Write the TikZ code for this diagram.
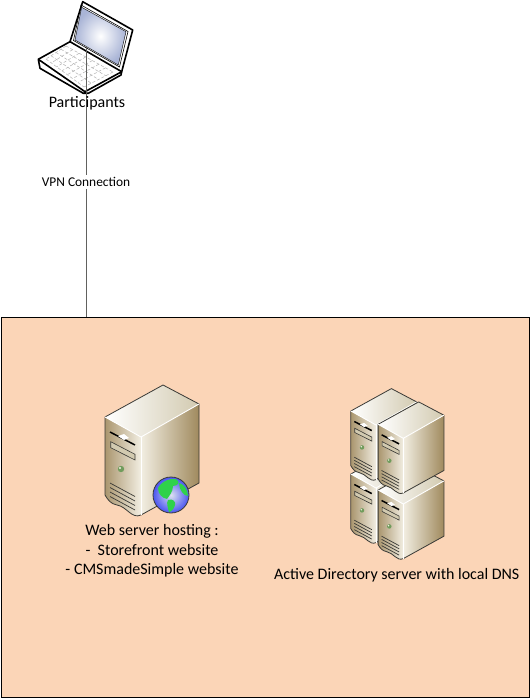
\documentclass[tikz,border=0pt]{standalone}
\usepackage{fontspec}
\setmainfont{Carlito}
\usetikzlibrary{calc}
\definecolor{sitefill}{HTML}{FBD5B7}
\definecolor{towerdark}{HTML}{A08A5E}
\definecolor{towermid}{HTML}{D2CAB0}
\definecolor{towerlight}{HTML}{F2EEE2}
\definecolor{edgedark}{HTML}{3A3A36}
\definecolor{screenblue}{HTML}{A9B4D6}
\definecolor{globegreen}{HTML}{2FD24A}
\definecolor{globeblue}{HTML}{4A55F0}
\tikzset{
	labeltext/.style={font=\fontsize{16}{19.7}\selectfont,text=black,inner sep=0pt},
	linktext/.style={font=\fontsize{13.4}{15}\selectfont,text=black,fill=white,inner sep=2pt},
	towerbox/.pic={
		\shade[left color=towerlight,middle color=towermid!60!white,right color=towerdark] (0,0) -- (58,-33) -- (58,46) -- (0,78) -- cycle;
		\shade[left color=towerdark!90!white,right color=towerlight] (-36,-20) -- (0,0) -- (0,78) to[out=205,in=-10] (-24,68) to[out=170,in=-60] (-36,58) -- cycle;
		\shade[left color=white,right color=towermid] (-36,-20) -- (22,-52) -- (58,-33) -- (0,0) -- cycle;
		\draw[edgedark,line width=.8pt,line join=round] (-36,-20) -- (22,-52) -- (58,-33) -- (58,46) -- (0,78) to[out=205,in=-10] (-24,68) to[out=170,in=-60] (-36,58) -- cycle;
		\draw[white,line width=.9pt] (-36,-20) -- (0,0) -- (58,-33);
		\draw[white,line width=.9pt] (0,0) -- (0,78);
		%%%%%%%%%%%%%%%%%%%%%%%%%%%%%%%%%
		\draw[black,line width=1.5pt] (-31,-5) -- (-6,8);
		\fill[white] (-23,-1) -- (-17,-3) -- (-12,1) -- (-17,3) -- cycle;
		\fill[towermid,draw=edgedark,line width=.6pt] (-30.3,4.7) -- (-6,17.3) -- (-6,23) -- (-30.3,10.7) -- cycle;
		\fill[towerdark!60!green!50!gray] (-20,32) circle (3.2);
		\fill[towerlight] (-21,31) circle (1.2);
		\foreach \v in {0,4.5,9,13.5}
			\draw[edgedark,line width=.7pt] (-31,46+\v) -- (-6,59.5+\v);
	}
}
\begin{document}
\begin{tikzpicture}[x=1pt,y=-1pt]
	\useasboundingbox (0,0) rectangle (530,700);
	\node[draw=black,fill=sitefill,line width=1pt,minimum width=528pt,minimum height=380pt,inner sep=0pt] (site) at (265,507.5){};
	%%%%%%%%%%%%%%%%%%%%%%%%%%%%%%%%%
	% laptop
	\fill[white] (38.3,59.3) -- (70,41.7) -- (121.7,71.7) -- (121,75) -- (88.3,93.3) -- (83.3,93.3) -- (40,68.3) -- cycle;
	\coordinate (kba) at (66,46);
	\coordinate (kbb) at (113,72);
	\coordinate (kbc) at (46,59);
	\coordinate (kbd) at (84,87);
	\foreach \t in {0,.14,.28,.42,.56,.7,.84,1}
		\draw[gray!60,densely dashed,line width=.5pt] ($(kba)!\t!(kbb)$) -- ($(kbc)!\t!(kbd)$);
	\foreach \t in {0,.25,.5,.75,1}
		\draw[gray!60,densely dashed,line width=.5pt] ($(kba)!\t!(kbc)$) -- ($(kbb)!\t!(kbd)$);
	\draw[black,line width=1.6pt,line join=round] (38.3,59.3) -- (70,41.7);
	\draw[black,line width=1.6pt,line join=round] (121.7,71.7) -- (85,91.7) -- (38.3,59.3) -- (40,68.3) -- (83.3,93.3) -- (88.3,93.3) -- (121,75) -- (121.7,71.7);
	\fill[white,draw=black,line width=1.6pt,line join=round] (82.7,1.7) -- (132.7,30) -- (121.7,71.7) -- (70,41.7) -- cycle;
	\draw[black,line width=.6pt] (81,5) -- (128,31.5) -- (119.5,67) -- (73.5,40.5) -- cycle;
	\shade[inner color=white,outer color=screenblue,draw=black,line width=.4pt] (81.7,7.3) -- (126,31.7) -- (118.3,65) -- (75,40) -- cycle;
	\coordinate (laptop) at (86,47);
	%%%%%%%%%%%%%%%%%%%%%%%%%%%%%%%%%
	\draw[edgedark!80,line width=1pt] (laptop) -- node[linktext,pos=.5] (vpntext) {VPN Connection} (laptop |- site.north);
	\node[labeltext] (participants) at (87,103){Participants};
	%%%%%%%%%%%%%%%%%%%%%%%%%%%%%%%%%
	% web server
	\pic at (141,437) {towerbox};
	\shade[inner color=white!60!screenblue,outer color=globeblue,draw=edgedark,line width=.8pt] (171,495) circle (18);
	\fill[globegreen] (158,488) .. controls (162,481) and (170,478) .. (176,479) .. controls (181,482) and (178,486) .. (173,486) .. controls (173,492) and (169,496) .. (167,499) .. controls (162,498) and (158,494) .. (158,488) -- cycle;
	\fill[globegreen] (168,500) .. controls (173,498) and (176,502) .. (175,505) .. controls (174,509) and (171,512) .. (169,512) .. controls (168,508) and (166,503) .. (168,500) -- cycle;
	\fill[globegreen] (179,483) .. controls (184,484) and (188,490) .. (188,496) .. controls (184,496) and (179,490) .. (179,483) -- cycle;
	\node[labeltext,align=center] (webtext) at (152,551){Web server hosting :\\-\ \ Storefront website\\- CMSmadeSimple website};
	%%%%%%%%%%%%%%%%%%%%%%%%%%%%%%%%%
	% directory servers
	\pic[scale=.7] at (376,488) {towerbox};
	\pic[scale=.7] at (403.3,504) {towerbox};
	\pic[scale=.7] at (376,425) {towerbox};
	\pic[scale=.7] at (403.3,438.3) {towerbox};
	\node[labeltext] (adtext) at (396.7,575){Active Directory server with local DNS};
\end{tikzpicture}
\end{document}
